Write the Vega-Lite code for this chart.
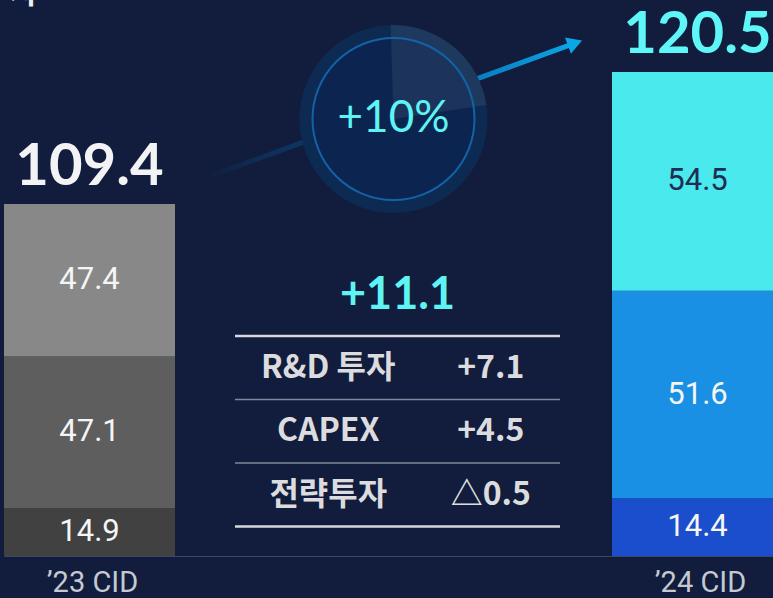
{
  "$schema": "https://vega.github.io/schema/vega-lite/v6.json",
  "width": 773,
  "height": 556,
  "autosize": "none",
  "padding": {"left": 0, "top": 0, "right": 0, "bottom": 42},
  "background": "#121c3c",
  "config": {"view": {"stroke": null}, "font": "Lato"},
  "datasets": {
    "segments": [
      {"year": "’23 CID", "item": "전략투자", "value": 14.9},
      {"year": "’23 CID", "item": "CAPEX", "value": 47.1},
      {"year": "’23 CID", "item": "R&D 투자", "value": 47.4},
      {"year": "’24 CID", "item": "전략투자", "value": 14.4},
      {"year": "’24 CID", "item": "CAPEX", "value": 51.6},
      {"year": "’24 CID", "item": "R&D 투자", "value": 54.5}
    ],
    "totals": [
      {"year": "’23 CID", "total": 109.4},
      {"year": "’24 CID", "total": 120.5}
    ],
    "changes": [
      {"item": "R&D 투자", "delta": "+7.1"},
      {"item": "CAPEX", "delta": "+4.5"},
      {"item": "전략투자", "delta": "△0.5"}
    ],
    "summary": [
      {"change": "+11.1", "growth": "+10%", "title": "자"}
    ]
  },
  "layer": [
    {
      "data": {"name": "totals"},
      "layer": [
        {
          "mark": {
            "type": "line",
            "strokeWidth": 5,
            "strokeCap": "butt",
            "color": {
              "gradient": "linear",
              "x1": 0, "y1": 0, "x2": 1, "y2": 0,
              "stops": [
                {"offset": 0, "color": "rgba(12,60,110,0)"},
                {"offset": 0.25, "color": "#0c3560"},
                {"offset": 0.75, "color": "#0a7fc4"},
                {"offset": 1, "color": "#0aa6e6"}
              ]
            }
          },
          "encoding": {
            "x": {"field": "year", "type": "nominal", "scale": {"type": "point", "domain": ["’23 CID", "’24 CID"], "range": [205, 575], "padding": 0}, "axis": null},
            "y": {"field": "total", "type": "quantitative", "scale": {"domain": [78.31, 124.04], "zero": false, "nice": false}, "axis": null}
          }
        },
        {
          "transform": [{"filter": "datum.year == '’24 CID'"}],
          "mark": {"type": "point", "shape": "triangle-right", "size": 300, "filled": true, "color": "#0aa6e6", "opacity": 1, "angle": 340},
          "encoding": {
            "x": {"field": "year", "type": "nominal", "axis": null},
            "y": {"field": "total", "type": "quantitative", "axis": null}
          }
        }
      ]
    },
    {
      "data": {"name": "summary"},
      "encoding": {
        "x": {"datum": "mid", "type": "nominal", "scale": {"type": "band", "domain": ["’23 CID", "mid", "’24 CID"], "range": [4, 783], "paddingInner": 0.4375, "paddingOuter": 0}, "axis": null},
        "y": {"datum": 114.25, "type": "quantitative", "scale": {"domain": [78.31, 124.04], "zero": false, "nice": false}, "axis": null}
      },
      "layer": [
        {"mark": {"type": "point", "shape": "circle", "size": 35344, "filled": true, "color": "#0d2a52", "opacity": 1, "strokeWidth": 0}},
        {"mark": {"type": "point", "shape": "circle", "size": 26244, "filled": true, "color": "#0b2550", "opacity": 1, "strokeWidth": 0}},
        {"mark": {"type": "arc", "theta": -0.03, "theta2": 1.42, "radius": 94, "color": "#ffffff", "opacity": 0.07}},
        {"mark": {"type": "point", "shape": "circle", "size": 26244, "filled": false, "stroke": "#1462a6", "strokeWidth": 2, "opacity": 1}},
        {
          "mark": {"type": "text", "font": "Lato", "fontSize": 44, "color": "#5ff4f4", "baseline": "middle"},
          "encoding": {"text": {"field": "growth"}}
        },
        {
          "mark": {"type": "text", "font": "Noto Sans CJK KR", "fontWeight": "bold", "fontSize": 30, "color": "#eeeeee", "align": "left", "baseline": "alphabetic", "dx": 6},
          "encoding": {
            "x": {"datum": "’23 CID", "type": "nominal", "bandPosition": 0},
            "y": {"datum": 123.8, "type": "quantitative"},
            "text": {"field": "title"}
          }
        }
      ]
    },
    {
      "encoding": {
        "x": {
          "field": "year", "type": "nominal", "title": null,
          "scale": {"type": "band", "domain": ["’23 CID", "mid", "’24 CID"], "range": [4, 783], "paddingInner": 0.4375, "paddingOuter": 0},
          "axis": {
            "labelExpr": "datum.value == 'mid' ? '' : datum.value",
            "labelFont": "Roboto",
            "labelFontSize": 29,
            "labelColor": "#c5c9d2",
            "labelPadding": 35,
            "labelBaseline": "alphabetic",
            "labelAngle": 0,
            "labelOffset": 3,
            "ticks": false,
            "grid": false,
            "domainColor": "#3d4866",
            "domainWidth": 1,
            "title": null
          }
        }
      },
      "layer": [
        {
          "data": {"name": "segments"},
          "transform": [
            {"filter": "datum.year == '’23 CID'"},
            {"stack": "value", "groupby": ["year"], "as": ["v0", "v1"]}
          ],
          "layer": [
            {
              "mark": {"type": "bar"},
              "encoding": {
                "y": {"field": "v0", "type": "quantitative", "scale": {"domain": [0, 172.8], "nice": false}, "axis": null},
                "y2": {"field": "v1"},
                "color": {"field": "item", "type": "nominal", "scale": {"domain": ["R&D 투자", "CAPEX", "전략투자"], "range": ["#888888", "#5e5e5e", "#414141"]}, "legend": null}
              }
            },
            {
              "transform": [{"calculate": "(datum.v0 + datum.v1) / 2", "as": "mid"}],
              "mark": {"type": "text", "font": "Roboto", "fontSize": 31, "color": "#f5f5f5", "baseline": "middle"},
              "encoding": {
                "y": {"field": "mid", "type": "quantitative", "axis": null},
                "text": {"field": "value", "type": "quantitative", "format": ".1f"}
              }
            }
          ]
        },
        {
          "data": {"name": "totals"},
          "transform": [{"filter": "datum.year == '’23 CID'"}],
          "mark": {"type": "text", "font": "Lato", "fontSize": 58, "fontWeight": "bold", "color": "#f3f3f5", "baseline": "alphabetic", "dy": -19},
          "encoding": {
            "y": {"field": "total", "type": "quantitative", "axis": null},
            "text": {"field": "total", "type": "quantitative", "format": ".1f"}
          }
        }
      ]
    },
    {
      "encoding": {
        "x": {
          "field": "year", "type": "nominal", "axis": null,
          "scale": {"type": "band", "domain": ["’23 CID", "mid", "’24 CID"], "range": [4, 783], "paddingInner": 0.4375, "paddingOuter": 0}
        }
      },
      "layer": [
        {
          "data": {"name": "segments"},
          "transform": [
            {"filter": "datum.year == '’24 CID'"},
            {"stack": "value", "groupby": ["year"], "as": ["v0", "v1"]}
          ],
          "layer": [
            {
              "mark": {"type": "bar"},
              "encoding": {
                "y": {"field": "v0", "type": "quantitative", "scale": {"domain": [0, 138.4], "nice": false}, "axis": null},
                "y2": {"field": "v1"},
                "color": {"field": "item", "type": "nominal", "scale": {"domain": ["R&D 투자", "CAPEX", "전략투자"], "range": ["#49e9ed", "#1a90e4", "#1a4ecd"]}, "legend": null}
              }
            },
            {
              "transform": [{"calculate": "(datum.v0 + datum.v1) / 2", "as": "mid"}],
              "mark": {"type": "text", "font": "Roboto", "fontSize": 31, "baseline": "middle"},
              "encoding": {
                "y": {"field": "mid", "type": "quantitative", "axis": null},
                "text": {"field": "value", "type": "quantitative", "format": ".1f"},
                "color": {"condition": {"test": "datum.item == 'R&D 투자'", "value": "#1f2d52"}, "value": "#f5f5f5"}
              }
            }
          ]
        },
        {
          "data": {"name": "totals"},
          "transform": [{"filter": "datum.year == '’24 CID'"}],
          "mark": {"type": "text", "font": "Lato", "fontSize": 58, "fontWeight": "bold", "color": "#5ef6f6", "baseline": "alphabetic", "dy": -19},
          "encoding": {
            "y": {"field": "total", "type": "quantitative", "axis": null},
            "text": {"field": "total", "type": "quantitative", "format": ".1f"}
          }
        }
      ]
    },
    {
      "layer": [
        {
          "data": {"name": "summary"},
          "mark": {"type": "rule", "color": "#d8d8dc", "strokeWidth": 2.5},
          "encoding": {
            "x": {"datum": "항목", "type": "nominal", "bandPosition": 0, "scale": {"type": "band", "domain": ["항목", "증감"], "range": [235, 560], "paddingInner": 0, "paddingOuter": 0}, "axis": null},
            "x2": {"datum": "증감", "bandPosition": 1},
            "y": {"datum": "R&D 투자", "type": "nominal", "bandPosition": 0, "scale": {"type": "band", "domain": ["total", "R&D 투자", "CAPEX", "전략투자"], "range": [272.5, 526.5], "paddingInner": 0, "paddingOuter": 0}, "axis": null}
          }
        },
        {
          "data": {"name": "summary"},
          "mark": {"type": "rule", "color": "#d8d8dc", "strokeWidth": 2.5},
          "encoding": {
            "x": {"datum": "항목", "type": "nominal", "bandPosition": 0},
            "x2": {"datum": "증감", "bandPosition": 1},
            "y": {"datum": "전략투자", "type": "nominal", "bandPosition": 1}
          }
        },
        {
          "data": {"name": "summary"},
          "mark": {"type": "rule", "color": "#80879a", "strokeWidth": 1.3},
          "encoding": {
            "x": {"datum": "항목", "type": "nominal", "bandPosition": 0},
            "x2": {"datum": "증감", "bandPosition": 1},
            "y": {"datum": "CAPEX", "type": "nominal", "bandPosition": 0}
          }
        },
        {
          "data": {"name": "summary"},
          "mark": {"type": "rule", "color": "#80879a", "strokeWidth": 1.3},
          "encoding": {
            "x": {"datum": "항목", "type": "nominal", "bandPosition": 0},
            "x2": {"datum": "증감", "bandPosition": 1},
            "y": {"datum": "전략투자", "type": "nominal", "bandPosition": 0}
          }
        },
        {
          "data": {"name": "summary"},
          "mark": {"type": "text", "font": "Lato", "fontSize": 45, "fontWeight": "bold", "color": "#5ff4f4", "baseline": "alphabetic"},
          "encoding": {
            "x": {"datum": "항목", "type": "nominal", "bandPosition": 1},
            "y": {"datum": "total", "type": "nominal", "bandPosition": 0.575},
            "text": {"field": "change"}
          }
        },
        {
          "data": {"name": "changes"},
          "mark": {"type": "text", "font": "Noto Sans CJK KR", "fontSize": 32, "fontWeight": "bold", "color": "#dcdcdf", "baseline": "middle", "dx": 12},
          "encoding": {
            "x": {"datum": "항목", "type": "nominal"},
            "y": {"field": "item", "type": "nominal"},
            "text": {"field": "item"}
          }
        },
        {
          "data": {"name": "changes"},
          "mark": {"type": "text", "font": "Noto Sans CJK KR", "fontSize": 32, "fontWeight": "bold", "color": "#dcdcdf", "baseline": "middle", "dx": 12},
          "encoding": {
            "x": {"datum": "증감", "type": "nominal"},
            "y": {"field": "item", "type": "nominal"},
            "text": {"field": "delta"}
          }
        }
      ]
    }
  ],
  "resolve": {"scale": {"x": "independent", "y": "independent", "color": "independent"}}
}
